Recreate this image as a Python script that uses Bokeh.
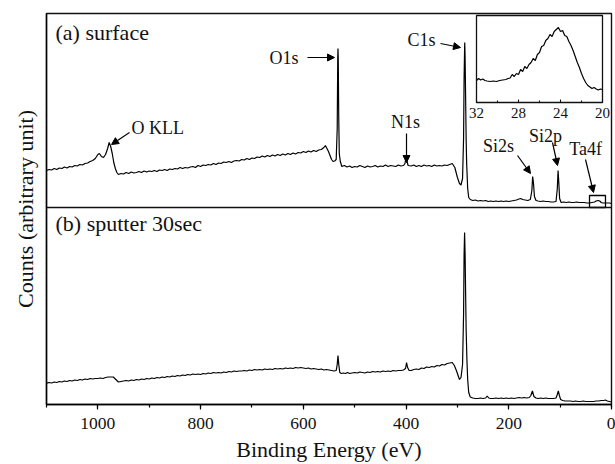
from bokeh.plotting import figure
from bokeh.models import (Range1d, Span, Arrow, NormalHead, ColumnDataSource,
                          SingleIntervalTicker, FixedTicker)
from bokeh.core.properties import value
from bokeh.embed import file_html
from bokeh.resources import INLINE

# ---------------- data (binding energy eV, counts in arbitrary units) ----------------
surface_points = [
    (1100, 38), (1095, 39), (1090, 38.5), (1085, 40), (1080, 39), (1075, 40.5), (1070, 40),
    (1065, 41.5), (1060, 40.5), (1055, 42), (1050, 41.5), (1045, 43), (1040, 42.5), (1035, 44),
    (1030, 43.5), (1025, 45), (1020, 45.5), (1015, 47), (1010, 48), (1005, 50), (1000, 54),
    (997, 55), (993, 52), (989, 51), (985, 54), (981, 60), (978, 66), (975, 62), (972, 55),
    (969, 46), (966, 40), (963, 36), (960, 34), (955, 35), (950, 34.5), (945, 36), (940, 35),
    (935, 36.5), (930, 35.5), (925, 36), (920, 37), (915, 36), (910, 37.5), (905, 36.5),
    (900, 37.5), (895, 37), (890, 38), (885, 37), (880, 38.5), (875, 38), (870, 39), (865, 38),
    (860, 39.5), (855, 39), (850, 40), (845, 39.5), (840, 41), (835, 40), (830, 41), (825, 40.5),
    (820, 41.5), (815, 42), (810, 41), (805, 43), (800, 42), (795, 43.5), (790, 43), (785, 44),
    (780, 43.5), (775, 45), (770, 44), (765, 45.5), (760, 45), (755, 46.5), (750, 46), (745, 47),
    (740, 46), (735, 47.5), (730, 48), (725, 47.5), (720, 49), (715, 48.5), (710, 50), (705, 49),
    (700, 50.5), (695, 50), (690, 51.5), (685, 51), (680, 52.5), (675, 51.5), (670, 53), (665, 52),
    (660, 53.5), (655, 52.5), (650, 54), (645, 53), (640, 54.5), (635, 53.5), (630, 55), (625, 54),
    (620, 55.5), (615, 54.5), (610, 56), (605, 55.5), (600, 57), (595, 56), (590, 57.5),
    (585, 56.5), (580, 58), (575, 57), (570, 58.5), (565, 59), (560, 61), (557, 63), (554, 60),
    (551, 57), (548, 53), (545, 49), (542, 47), (539, 47.5), (536, 49), (534, 80), (533, 150),
    (532.5, 160), (532, 150), (531, 90), (530, 55), (528, 47), (525, 42), (520, 43), (515, 41.5),
    (510, 42.5), (505, 41), (500, 42), (495, 41.5), (490, 43), (485, 42), (480, 41), (475, 42.5),
    (470, 41.5), (465, 42), (460, 43), (455, 41.5), (450, 42.5), (445, 42), (440, 43.5), (435, 42),
    (430, 43), (425, 42.5), (420, 42), (415, 43.5), (410, 42.5), (405, 43), (402, 45), (400, 52),
    (398, 47), (396, 43), (390, 42.5), (385, 43.5), (380, 42), (375, 43), (370, 42), (365, 43.5),
    (360, 42.5), (355, 43), (350, 42), (345, 43.5), (340, 42.5), (335, 43), (330, 42.5),
    (325, 43.5), (320, 43), (315, 44), (310, 45), (305, 41), (300, 31), (296, 25), (293, 23.5),
    (290, 30), (288, 70), (287, 130), (286, 160), (285.7, 166), (285, 150), (284, 110), (283, 70),
    (282, 45), (280, 20), (278, 11), (275, 9), (270, 8), (265, 8.5), (260, 7.5), (255, 8),
    (250, 7.5), (245, 8), (240, 7), (235, 7.5), (230, 7), (225, 7.5), (220, 7), (215, 7.5),
    (210, 7), (205, 7.5), (200, 7), (195, 7.5), (190, 8), (185, 8.5), (180, 9.5), (177, 10),
    (173, 9), (168, 8.5), (163, 8), (158, 9), (155, 18), (153.5, 32), (152, 26), (150, 12),
    (147, 8), (143, 7.5), (138, 7), (133, 7.5), (128, 7), (123, 7), (118, 6.5), (113, 6.5),
    (108, 7), (105.5, 20), (104, 38), (102.5, 25), (101, 10), (98, 6), (93, 6.5), (88, 6),
    (83, 6.5), (78, 6), (73, 6), (68, 6.5), (63, 6), (58, 6), (53, 6), (48, 5.5), (43, 5.5),
    (38, 6), (33, 6.5), (30, 7.5), (26, 8), (23, 7.5), (20, 6), (17, 5.5), (12, 5.5), (8, 5.5),
    (4, 5.5), (0, 5),
]

sputter_points = [
    (1100, 21.3), (1095, 22), (1090, 21.5), (1085, 22.5), (1080, 22), (1075, 23), (1070, 22.5),
    (1065, 23.5), (1060, 23), (1055, 24), (1050, 23.5), (1045, 24.5), (1040, 24), (1035, 25),
    (1030, 24.5), (1025, 25.5), (1020, 25), (1015, 26), (1010, 25.5), (1005, 26), (1000, 26),
    (995, 26.5), (990, 26), (985, 27), (980, 27.5), (975, 27.5), (970, 27.5), (965, 25),
    (960, 22.5), (955, 23), (950, 23.5), (945, 24), (940, 23.5), (935, 24.5), (930, 24),
    (925, 25), (920, 24.5), (915, 25.5), (910, 25), (905, 26), (900, 25.5), (895, 26.5),
    (890, 26), (885, 27), (880, 26.5), (875, 27.5), (870, 27), (865, 28), (860, 27.5),
    (855, 28.5), (850, 28), (845, 29), (840, 28.5), (835, 29.5), (830, 29), (825, 30),
    (820, 29.5), (815, 30.5), (810, 30), (805, 30.5), (800, 30), (795, 31), (790, 30.5),
    (785, 31.5), (780, 31), (775, 32), (770, 31.5), (765, 32), (760, 31.5), (755, 32.5),
    (750, 32), (745, 33), (740, 32.5), (735, 33.5), (730, 33), (725, 33.5), (720, 33.5),
    (715, 34), (710, 33.5), (705, 34.5), (700, 34), (695, 35), (690, 34.5), (685, 35),
    (680, 34.5), (675, 35.5), (670, 35), (665, 35.5), (660, 35), (655, 36), (650, 35.5),
    (645, 36), (640, 35.5), (635, 36.5), (630, 36), (625, 36.5), (620, 36), (615, 37),
    (610, 36.5), (605, 37), (600, 36.5), (595, 36), (590, 36.5), (585, 35.5), (580, 36),
    (575, 35.5), (570, 35), (565, 35.5), (560, 34.5), (555, 35), (550, 34.5), (545, 34),
    (540, 33.5), (536, 34), (534, 40), (532.5, 49), (531, 40), (529, 32), (526, 31),
    (522, 31.5), (518, 31), (514, 32), (510, 31), (505, 31.5), (500, 32), (495, 31.5),
    (490, 32.5), (485, 32), (480, 31.5), (475, 32.5), (470, 32), (465, 33), (460, 32.5),
    (455, 33), (450, 32.5), (445, 33.5), (440, 33), (435, 33.5), (430, 33), (425, 34),
    (420, 33.5), (415, 34), (410, 34), (405, 34.5), (401, 36), (399, 42), (397, 37), (394, 34),
    (390, 34), (385, 35), (380, 35.5), (375, 35), (370, 36.5), (365, 36), (360, 37.5),
    (355, 37), (350, 38), (345, 37.5), (340, 39), (335, 38.5), (330, 40), (325, 39.5),
    (320, 41), (315, 41.5), (310, 42), (306, 39), (302, 34), (298, 28), (296, 25), (293, 27),
    (290, 40), (288, 90), (287, 150), (286, 172), (285, 150), (284, 110), (283, 75),
    (281.5, 45), (280, 25), (278, 12), (275, 7.5), (270, 6.5), (265, 6), (260, 6), (255, 6.5),
    (250, 6), (245, 6.5), (242, 8.5), (239, 6.5), (235, 6), (230, 6), (225, 6.5), (220, 6),
    (215, 6.5), (210, 6), (205, 6.5), (200, 6), (195, 6.5), (190, 6), (185, 6.5), (180, 7),
    (175, 6.5), (170, 7), (165, 6.5), (160, 7), (157, 9), (154, 13.5), (151, 8), (147, 6.5),
    (143, 6), (138, 6.5), (133, 6), (128, 6.5), (123, 6), (118, 6), (113, 6), (108, 6.5),
    (105.5, 10), (103.5, 13.5), (101.5, 9), (99, 5), (95, 4), (90, 3.5), (85, 3.5), (80, 3.5),
    (75, 3), (70, 3.5), (65, 3), (60, 3), (55, 3.5), (50, 3), (45, 3), (40, 3), (35, 3),
    (30, 3.5), (25, 3.5), (20, 4), (15, 4), (12, 4.5), (8, 3.5), (4, 3), (0, 2.5),
]

# Ta 4f region (inset)
inset_points = [
    (32.0, 22), (31.8, 24), (31.6, 22.5), (31.4, 23.5), (31.2, 22), (31.0, 21.5), (30.7, 21),
    (30.4, 21.5), (30.1, 21), (29.8, 22), (29.5, 22.5), (29.2, 23), (29.0, 24), (28.8, 24.5),
    (28.6, 28), (28.4, 26), (28.2, 29), (28.0, 28), (27.8, 33), (27.6, 31), (27.4, 36),
    (27.2, 34), (27.0, 38), (26.8, 40), (26.6, 44), (26.4, 42), (26.2, 48), (26.0, 50),
    (25.8, 56), (25.6, 57), (25.4, 62), (25.2, 64), (25.0, 68), (24.8, 66), (24.6, 71),
    (24.4, 73), (24.2, 75), (24.0, 71), (23.8, 72), (23.6, 67), (23.4, 66), (23.2, 61),
    (23.0, 57), (22.8, 52), (22.6, 46), (22.4, 40), (22.2, 35), (22.0, 29), (21.8, 24),
    (21.6, 20), (21.4, 17), (21.2, 15.5), (21.0, 14), (20.8, 15), (20.6, 13.5), (20.4, 12.5),
    (20.2, 13.5), (20.0, 13),
]
inset_ticks = [32, 28, 24, 20]
inset_tick_labels = ["32", "28", "24", "20"]
inset_minor_ticks = [30, 26, 22]

# annotation texts
peak_labels = ["O1s", "C1s", "N1s", "O KLL", "Si2s", "Si2p", "Ta4f"]

# ---------------- layout constants ----------------
FONT = value("Liberation Serif")
OFFSET = 196          # vertical offset of the surface spectrum (stacked panels)
DIVIDER = 197
YMAX = 391
W, H = 615, 464
# frame geometry (page px) used to place the inset box
FL, FR, FT, FB = 46, 611, 13, 404
IL, IR, IT, IB = 476, 602, 15, 102
IX0, IX1, IY0, IY1 = 32, 20, 0, 87

p = figure(width=W, height=H, output_backend="svg", toolbar_location=None,
           x_range=Range1d(1100, 0), y_range=Range1d(0, YMAX),
           min_border_left=FL, min_border_right=W - FR,
           min_border_top=FT, min_border_bottom=H - FB)
p.background_fill_color = "white"
p.border_fill_color = "white"
p.outline_line_color = "#111111"
p.outline_line_width = 1.4
p.xgrid.visible = False
p.ygrid.visible = False

# x axis
p.xaxis.ticker = SingleIntervalTicker(interval=200, num_minor_ticks=2)
p.xaxis.major_tick_in = 0
p.xaxis.major_tick_out = 5
p.xaxis.minor_tick_in = 0
p.xaxis.minor_tick_out = 3
p.xaxis.axis_line_width = 1.4
p.xaxis.major_tick_line_width = 1.2
p.xaxis.minor_tick_line_width = 1.2
p.xaxis.major_label_text_font = "Liberation Serif"
p.xaxis.major_label_text_font_size = "17.5px"
p.xaxis.major_label_text_color = "#111111"
p.xaxis.major_label_standoff = 8
p.xaxis.axis_label = "Binding Energy (eV)"
p.xaxis.axis_label_text_font = "Liberation Serif"
p.xaxis.axis_label_text_font_size = "22px"
p.xaxis.axis_label_text_font_style = "normal"
p.xaxis.axis_label_text_color = "#111111"
p.xaxis.axis_label_standoff = 5

# y axis (title only)
p.yaxis.ticker = FixedTicker(ticks=[])
p.yaxis.axis_line_width = 1.4
p.yaxis.axis_label = "Counts (arbitrary unit)"
p.yaxis.axis_label_text_font = "Liberation Serif"
p.yaxis.axis_label_text_font_size = "22px"
p.yaxis.axis_label_text_font_style = "normal"
p.yaxis.axis_label_text_color = "#111111"
p.yaxis.axis_label_standoff = 9

# panel divider
p.add_layout(Span(location=DIVIDER, dimension="width", line_color="#111111", line_width=1.4))

# spectra
se = [e for e, _ in surface_points]
sc = [c + OFFSET for _, c in surface_points]
pe = [e for e, _ in sputter_points]
pc = [c for _, c in sputter_points]
p.line(se, sc, line_color="black", line_width=1.2)
p.line(pe, pc, line_color="black", line_width=1.2)

# panel titles
p.text(x=[1082.5, 1082.5], y=[372, 181], text=["(a) surface", "(b) sputter 30sec"],
       text_font=FONT, text_font_size="22px", text_color="#111111",
       text_align="left", text_baseline="middle")

# peak labels
lab_x = [609.4, 342.7, 401.1, 934.5, 220.0, 128.5, 50.6]
lab_y = [347, 365, 283, 277, 259, 269, 256]
lab_align = ["right", "right", "center", "left", "center", "center", "center"]
p.text(x=lab_x, y=lab_y, text=peak_labels, text_align=lab_align,
       text_font=FONT, text_font_size="18px", text_color="#111111", text_baseline="middle")

arrows = ColumnDataSource(dict(
    x0=[591.9, 332.9, 399.1, 938.4, 183.0, 114.9, 50.6],
    y0=[347, 361, 271, 272, 249, 262, 245],
    x1=[539.3, 294.0, 399.1, 973.4, 157.7, 105.1, 35.0],
    y1=[347, 357, 242, 260, 231, 239, 212],
))
p.add_layout(Arrow(x_start="x0", y_start="y0", x_end="x1", y_end="y1", source=arrows,
                   line_color="black", line_width=1.2,
                   end=NormalHead(size=7, fill_color="black", line_color="black", line_width=1)))

# marker box around Ta 4f
p.quad(left=[42.8], right=[11.7], bottom=[197], top=[209],
       fill_color=None, line_color="black", line_width=1.3)

# ---------------- inset (own scales mapped onto inset box) ----------------
sx = (IR - IL) / (IX0 - IX1)
sy = (IB - IT) / (IY1 - IY0)
p.extra_x_ranges = {"ix": Range1d(IX0 + (IL - FL) / sx, IX1 - (FR - IR) / sx)}
p.extra_y_ranges = {"iy": Range1d(IY0 - (FB - IB) / sy, IY1 + (IT - FT) / sy)}

p.quad(left=[IX0], right=[IX1], bottom=[IY0], top=[IY1], fill_color="white",
       line_color="#111111", line_width=1.3, x_range_name="ix", y_range_name="iy")
p.line([e for e, _ in inset_points], [c for _, c in inset_points], line_color="black",
       line_width=1.2, x_range_name="ix", y_range_name="iy")
p.segment(x0=inset_ticks, y0=[IY0] * 4, x1=inset_ticks, y1=[IY0 + 3] * 4,
          line_color="#111111", line_width=1.1, x_range_name="ix", y_range_name="iy")
p.segment(x0=inset_minor_ticks, y0=[IY0] * 3, x1=inset_minor_ticks, y1=[IY0 + 2] * 3,
          line_color="#111111", line_width=1.1, x_range_name="ix", y_range_name="iy")
p.text(x=inset_ticks, y=[IY0 - 10.5] * 4, text=inset_tick_labels, text_align="center",
       text_baseline="middle", text_font=FONT, text_font_size="15px", text_color="#111111",
       x_range_name="ix", y_range_name="iy")

open("out.html", "w").write(file_html(p, INLINE))
